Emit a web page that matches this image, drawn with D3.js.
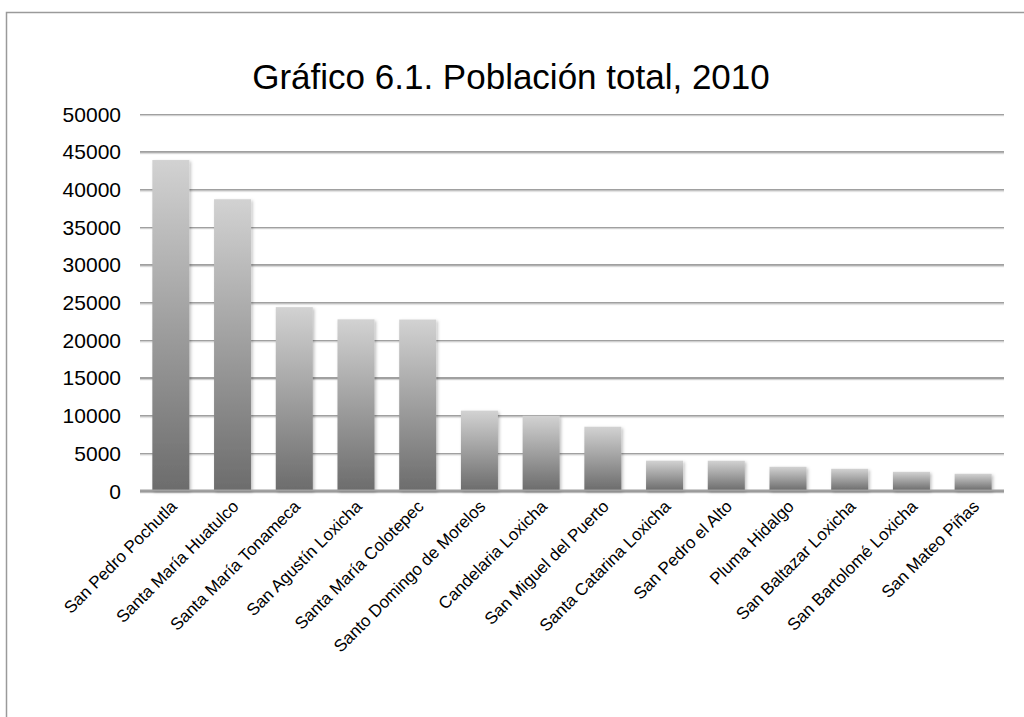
<!DOCTYPE html>
<html>
<head>
<meta charset="utf-8">
<script src="https://cdn.jsdelivr.net/npm/d3@7"></script>
<style>
  html, body { margin: 0; padding: 0; background: #fff; }
  svg { display: block; }
  text { font-family: "Liberation Sans", Arial, sans-serif; fill: #000; }
</style>
</head>
<body>
<script>
// Municipios y población total, 2010
const municipios = [
  "San Pedro Pochutla", "Santa María Huatulco", "Santa María Tonameca",
  "San Agustín Loxicha", "Santa María Colotepec", "Santo Domingo de Morelos",
  "Candelaria Loxicha", "San Miguel del Puerto", "Santa Catarina Loxicha",
  "San Pedro el Alto", "Pluma Hidalgo", "San Baltazar Loxicha",
  "San Bartolomé Loxicha", "San Mateo Piñas"
];
const poblacion = [43830, 38629, 24318, 22700, 22671, 10590, 9910, 8460, 3960, 3950, 3150, 2880, 2480, 2220];
const yTicks = [0, 5000, 10000, 15000, 20000, 25000, 30000, 35000, 40000, 45000, 50000];
const titulo = "Gráfico 6.1. Población total, 2010";

const W = 1024, H = 717;
const plot = { left: 140, right: 1004, top: 113.5, bottom: 490.5 };

const svg = d3.select("body").append("svg").attr("width", W).attr("height", H);
const defs = svg.append("defs");

const grad = defs.append("linearGradient")
  .attr("id", "barGrad").attr("x1", 0).attr("y1", 0).attr("x2", 0).attr("y2", 1);
grad.append("stop").attr("offset", "0%").attr("stop-color", "#d2d2d2");
grad.append("stop").attr("offset", "100%").attr("stop-color", "#6c6c6c");

// soft drop shadow for bars and lines
const shadow = defs.append("filter").attr("id", "shadow")
  .attr("filterUnits", "userSpaceOnUse")
  .attr("x", 0).attr("y", 0).attr("width", W).attr("height", H);
shadow.append("feDropShadow").attr("dx", 1.5).attr("dy", 1.5)
  .attr("stdDeviation", 1.6).attr("flood-color", "#000").attr("flood-opacity", 0.25);

const lineShadow = defs.append("filter").attr("id", "lineShadow")
  .attr("filterUnits", "userSpaceOnUse")
  .attr("x", 0).attr("y", 0).attr("width", W).attr("height", H);
lineShadow.append("feDropShadow").attr("dx", 0).attr("dy", 1.2)
  .attr("stdDeviation", 0.7).attr("flood-color", "#000").attr("flood-opacity", 0.18);

// chart border (left and top edges show; the rest runs off the page)
svg.append("rect")
  .attr("x", 6.5).attr("y", 12.5).attr("width", W + 20).attr("height", H + 20)
  .attr("fill", "none").attr("stroke", "#9a9a9a").attr("stroke-width", 1.5);

svg.append("text")
  .attr("x", 511).attr("y", 89)
  .attr("text-anchor", "middle")
  .style("font-size", "35px")
  .text(titulo);

const x = d3.scaleBand()
  .domain(municipios)
  .range([plot.left, plot.right])
  .paddingInner(0.4).paddingOuter(0.2);

const y = d3.scaleLinear().domain([0, 50000]).range([plot.bottom, plot.top]);

// horizontal gridlines and value labels
const yAxis = d3.axisLeft(y).tickValues(yTicks)
  .tickSize(-(plot.right - plot.left)).tickPadding(19).tickFormat(d3.format("d"));
const gy = svg.append("g").attr("transform", `translate(${plot.left},0)`).call(yAxis);
gy.select(".domain").remove();
gy.selectAll(".tick line")
  .attr("stroke", "#a0a0a0").attr("stroke-width", 2)
  .attr("filter", "url(#lineShadow)");
gy.selectAll(".tick text")
  .style("font-size", "21px")
  .attr("dy", "0.36em");

// bars
svg.append("g").selectAll("rect")
  .data(municipios.map((m, i) => ({ m, v: poblacion[i] })))
  .join("rect")
  .attr("x", d => x(d.m))
  .attr("width", x.bandwidth())
  .attr("y", d => y(d.v))
  .attr("height", d => y(0) - y(d.v))
  .attr("fill", "url(#barGrad)")
  .attr("filter", "url(#shadow)");

// baseline redrawn over the bars
svg.append("line")
  .attr("x1", plot.left).attr("x2", plot.right)
  .attr("y1", y(0)).attr("y2", y(0))
  .attr("stroke", "#a0a0a0").attr("stroke-width", 2)
  .attr("filter", "url(#lineShadow)");

// category labels, rotated 45 degrees
const xAxis = d3.axisBottom(x).tickSize(0).tickPadding(0);
const gx = svg.append("g").attr("transform", `translate(0,${plot.bottom})`).call(xAxis);
gx.select(".domain").remove();
gx.selectAll(".tick text")
  .style("font-size", "17px")
  .attr("text-anchor", "end")
  .attr("dy", 0)
  .attr("transform", "translate(7,17) rotate(-45)");
</script>
</body>
</html>
